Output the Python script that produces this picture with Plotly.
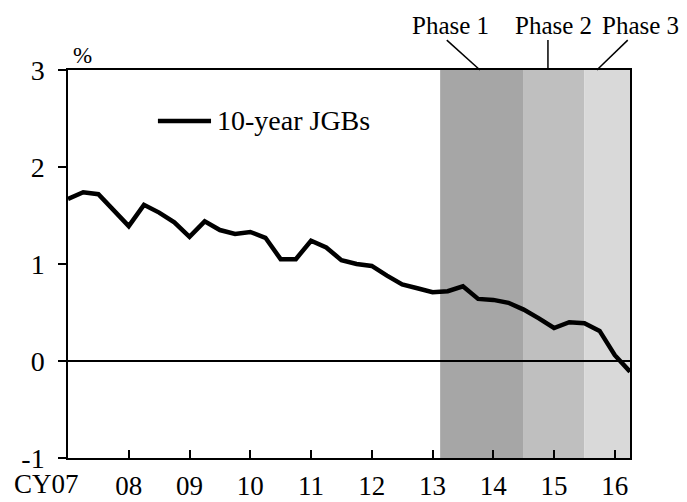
import plotly.graph_objects as go

# 10-year JGB yields, quarterly, CY2007 Q1 - CY2016 Q2 (%)
jgb_10y = [1.67, 1.74, 1.72, 1.56, 1.39, 1.61, 1.53, 1.43, 1.28, 1.44,
           1.35, 1.31, 1.33, 1.27, 1.05, 1.05, 1.24, 1.17, 1.04, 1.00,
           0.98, 0.88, 0.79, 0.75, 0.71, 0.72, 0.77, 0.64, 0.63, 0.60,
           0.53, 0.44, 0.34, 0.40, 0.39, 0.31, 0.06, -0.11]
quarters = [2007 + i / 4 for i in range(len(jgb_10y))]

year_ticks = list(range(2007, 2017))
year_labels = ["CY07", "08", "09", "10", "11", "12", "13", "14", "15", "16"]
y_ticks = [-1, 0, 1, 2, 3]
y_labels = ["-1", "0", "1", "2", "3"]

phase_names = ["Phase 1", "Phase 2", "Phase 3"]
phase_start = [2013.125, 2014.5, 2015.5]
phase_end = [2014.5, 2015.5, 2016.25]
phase_colors = ["#a6a6a6", "#bfbfbf", "#d9d9d9"]

FONT = "Liberation Serif"

fig = go.Figure()
fig.add_trace(go.Scatter(
    x=quarters, y=jgb_10y, mode="lines", name="10-year JGBs",
    line=dict(color="black", width=4.5), showlegend=False,
))

# shaded phases
for x0, x1, c in zip(phase_start, phase_end, phase_colors):
    fig.add_shape(type="rect", xref="x", yref="y", x0=x0, x1=x1, y0=-1, y1=3,
                  fillcolor=c, line_width=0, layer="below")

# phase labels with leader lines (paper coords)
label_x = [0.680, 0.863, 1.019]
line_top = [(0.674, 1.077), (0.854, 1.077), (0.996, 1.077)]
line_bot = [(0.733, 1.0), (0.854, 1.0), (0.941, 1.0)]
for name, lx, (xa, ya), (xb, yb) in zip(phase_names, label_x, line_top, line_bot):
    fig.add_annotation(x=lx, y=1.115, xref="paper", yref="paper", text=name,
                       xanchor="center", yanchor="middle", showarrow=False,
                       font=dict(size=25, family=FONT, color="black"))
    fig.add_shape(type="line", xref="paper", yref="paper", x0=xa, y0=ya, x1=xb, y1=yb,
                  line=dict(color="black", width=1.5))

# legend drawn by hand so the sample line is long
fig.add_shape(type="line", xref="paper", yref="paper", x0=0.160, x1=0.2545,
              y0=0.8686, y1=0.8686, line=dict(color="black", width=4.5))
fig.add_annotation(x=0.262, y=0.8686, xref="paper", yref="paper", text="10-year JGBs",
                   xanchor="left", yanchor="middle", showarrow=False,
                   font=dict(size=28, family=FONT, color="black"))

# unit label
fig.add_annotation(x=0.006, y=1.0, xref="paper", yref="paper", text="%",
                   xanchor="left", yanchor="bottom", showarrow=False,
                   font=dict(size=23, family=FONT, color="black"))

# first x label sits left of its tick
fig.add_annotation(x=year_ticks[0], y=0, xref="x", yref="paper", text=year_labels[0],
                   xanchor="center", yanchor="top", xshift=-22, yshift=-9, showarrow=False,
                   font=dict(size=27, family=FONT, color="black"))

# page body has an 8px margin: shrink the figure so it fits the window
fig.update_layout(
    width=679, height=494,
    margin=dict(l=60, r=57, t=62, b=44),
    paper_bgcolor="white", plot_bgcolor="white",
    font=dict(family=FONT, size=28, color="black"),
)
fig.update_xaxes(
    range=[2007, 2016.25], tickvals=year_ticks, ticktext=[""] + year_labels[1:],
    ticks="inside", ticklen=8, tickwidth=1.5, tickcolor="black",
    showline=True, linecolor="black", linewidth=1.5, mirror=True,
    showgrid=False, zeroline=False, ticklabelstandoff=3, automargin=False,
    tickfont=dict(size=27),
)
fig.update_yaxes(
    range=[-1, 3], tickvals=y_ticks, ticktext=y_labels,
    ticks="outside", ticklen=8, tickwidth=1.5, tickcolor="black",
    showline=True, linecolor="black", linewidth=1.5, mirror=True,
    showgrid=False, zeroline=True, zerolinecolor="black", zerolinewidth=1.5,
    ticklabelstandoff=8, automargin=False,
)

fig.write_html("out.html")
